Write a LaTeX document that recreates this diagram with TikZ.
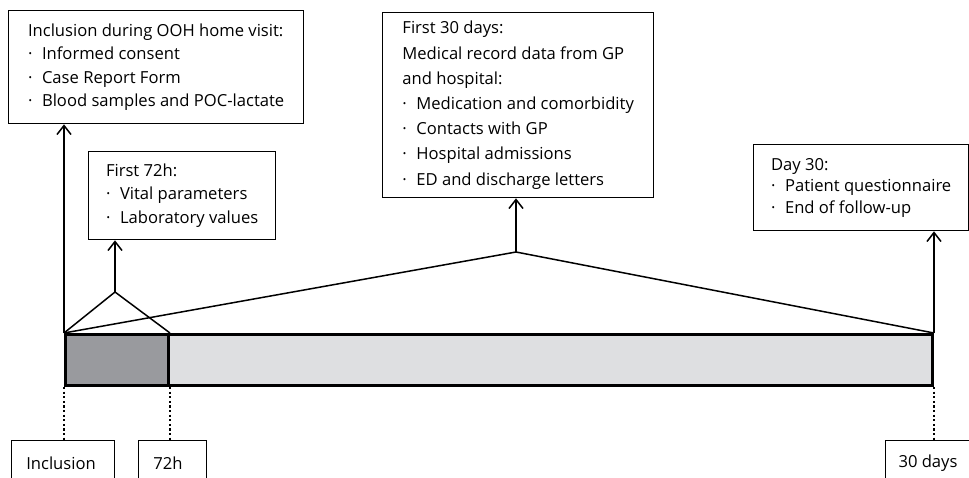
\documentclass[tikz,border=0pt]{standalone}
\usepackage{fontspec}
\setmainfont{Open Sans}
\usetikzlibrary{arrows.meta}
\definecolor{darkbar}{RGB}{153,154,158}
\definecolor{lightbar}{RGB}{222,223,225}
\newcommand\bl{\makebox[14pt][l]{·}}
\begin{document}
\begin{tikzpicture}[x=1pt,y=-1pt,
  box/.style={draw,line width=1.3pt,align=left,anchor=north west,inner sep=0pt,
              font=\fontsize{16.6}{23.5}\selectfont},
  arr/.style={line width=1.5pt,-{Straight Barb[length=9pt,width=14pt,line width=1.5pt]}},
  tri/.style={line width=1.5pt,line join=round},
  dotl/.style={line width=2.4pt,dash pattern=on 2.2pt off 2.4pt},
  lbox/.style={draw,line width=1.3pt,anchor=north west,minimum height=60pt,inner sep=0pt},
  lab/.style={font=\fontsize{16.6}{18}\selectfont,inner sep=0pt}]
\useasboundingbox (0,0) rectangle (969,477);
\clip (0,0) rectangle (969,477);
% boxes
\node[box,minimum width=295pt,minimum height=113pt] (b1) at (8,10)
  {Inclusion during OOH home visit:\\ \bl Informed consent\\ \bl Case Report Form\\ \bl Blood samples and POC-lactate};
\node[box,minimum width=187pt,minimum height=88pt] (b2) at (88,151)
  {First 72h:\\ \bl Vital parameters\\ \bl Laboratory values};
\node[box,minimum width=271pt,minimum height=185pt,font=\fontsize{16.6}{25.2}\selectfont] (b3) at (382,12)
  {First 30 days:\\ Medical record data from GP\\ and hospital:\\ \bl Medication and comorbidity\\ \bl Contacts with GP\\ \bl Hospital admissions\\ \bl ED and discharge letters};
\node[box,minimum width=215pt,minimum height=86pt,font=\fontsize{16.6}{21.5}\selectfont] (b4) at (753,144)
  {Day 30:\\ \bl Patient questionnaire\\ \bl End of follow-up};
% bar
\node[draw,fill=lightbar,line width=3pt,anchor=north west,minimum width=867pt,minimum height=51pt,inner sep=0pt] (bar) at (64,333) {};
\node[draw,fill=darkbar,line width=3pt,anchor=north west,minimum width=103pt,minimum height=51pt,inner sep=0pt] (seg) at (64,333) {};
% apexes
\coordinate (a2) at (115,292);
\coordinate (a3) at (516,252);
\draw[tri] (bar.north west) -- (a2) -- (seg.north east);
\draw[tri] (bar.north west) -- (a3) -- (bar.north east);
% arrows
\draw[arr] (bar.north west) -- (bar.north west |- b1.south);
\draw[arr] (a2) -- (a2 |- b2.south);
\draw[arr] (a3) -- (a3 |- b3.south);
\draw[arr] (bar.north east) -- (bar.north east |- b4.south);
% bottom labels
\node[lbox,minimum width=103pt] (inc) at (11,440) {};
\node[lbox,minimum width=68pt] (h72) at (138,440) {};
\node[lbox,minimum width=100pt] (d30) at (885,440) {};
\node[lab] (inct) at (61,463) {Inclusion};
\node[lab] (h72t) at (168,463) {72h};
\node[lab] (d30t) at (928,463) {30 days};
\draw[dotl] (bar.south west) -- (bar.south west |- inc.north);
\draw[dotl] (seg.south east) -- (seg.south east |- h72.north);
\draw[dotl] (bar.south east) -- (bar.south east |- d30.north);
\end{tikzpicture}
\end{document}
